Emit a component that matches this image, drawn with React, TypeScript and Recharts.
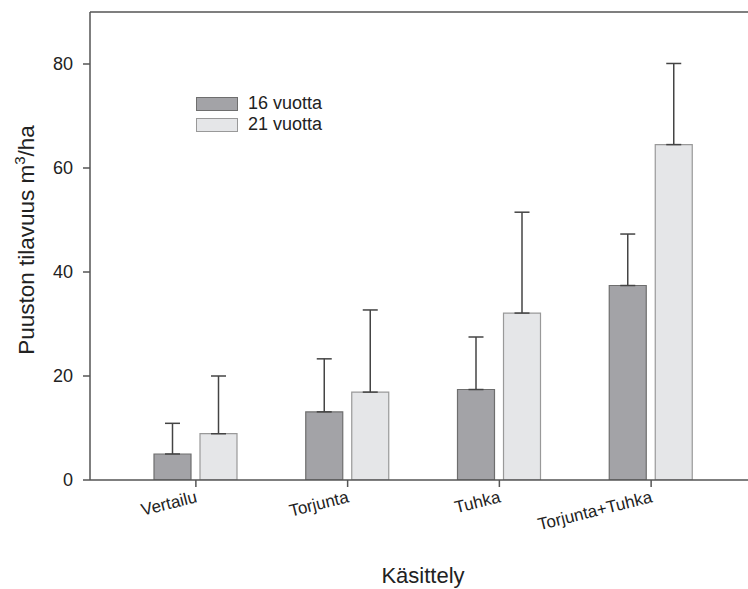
import React from 'react';
import { BarChart, Bar, XAxis, YAxis, ErrorBar, ReferenceLine } from 'recharts';

const categories = ['Vertailu', 'Torjunta', 'Tuhka', 'Torjunta+Tuhka'];
const v16 = [5.0, 13.1, 17.4, 37.4];
const v21 = [8.9, 16.9, 32.1, 64.5];
const sd16 = [5.9, 10.2, 10.1, 9.9];
const sd21 = [11.1, 15.8, 19.4, 15.6];
const yTicks = [0, 20, 40, 60, 80];
const seriesNames = ['16 vuotta', '21 vuotta'];

const data = categories.map((c, i) => ({
  name: c,
  s16: v16[i],
  s21: v21[i],
  e16: [0, sd16[i]],
  e21: [0, sd21[i]],
}));

const FONT = '"Liberation Sans", Arial, sans-serif';
const AX = '#555';
const FILL16 = '#a3a3a7';
const STROKE16 = '#6e6e6e';
const FILL21 = '#e5e6e8';
const STROKE21 = '#999';

const XTick = (props: any) => {
  const { x, y, payload } = props;
  return (
    <g transform={`translate(${x + 2},${y + 15})`}>
      <text
        x={0}
        y={0}
        textAnchor="end"
        transform="rotate(-14)"
        fontFamily={FONT}
        fontSize={17}
        fill="#222"
      >
        {payload.value}
      </text>
    </g>
  );
};

const YLabel = () => (
  <text
    x={34}
    y={240}
    transform="rotate(-90, 34, 240)"
    textAnchor="middle"
    fontFamily={FONT}
    fontSize={22.5}
    fill="#222"
  >
    Puuston tilavuus m<tspan dy={-9} fontSize={15}>3</tspan>
    <tspan dy={9}>/ha</tspan>
  </text>
);

const LegendBox = () => (
  <div
    style={{
      position: 'absolute',
      left: 196,
      top: 93,
      fontFamily: FONT,
      fontSize: 18,
      color: '#222',
      lineHeight: '21px',
    }}
  >
    {[
      { label: seriesNames[0], fill: FILL16, stroke: STROKE16 },
      { label: seriesNames[1], fill: FILL21, stroke: STROKE21 },
    ].map((it) => (
      <div key={it.label} style={{ display: 'flex', alignItems: 'center', height: 21 }}>
        <div
          style={{
            width: 40,
            height: 12,
            background: it.fill,
            border: `1px solid ${it.stroke}`,
            marginRight: 10,
          }}
        />
        <span>{it.label}</span>
      </div>
    ))}
  </div>
);

export default function App() {
  return (
    <div style={{ position: 'absolute', left: 0, top: 0, width: 748, height: 589, background: '#fff' }}>
      <BarChart
        width={748}
        height={589}
        data={data}
        margin={{ top: 12, right: 0, bottom: 0, left: 0 }}
        barSize={37}
        barGap={9}
      >
        <XAxis
          dataKey="name"
          height={109}
          tickSize={7}
          tickMargin={0}
          padding={{ left: 30, right: 21 }}
          axisLine={{ stroke: AX, strokeWidth: 1.5 }}
          tickLine={{ stroke: AX, strokeWidth: 1.5 }}
          tick={<XTick />}
          interval={0}
          label={{
            value: 'Käsittely',
            position: 'insideBottom',
            offset: 6,
            dx: 4,
            style: { fontFamily: FONT, fontSize: 22, fill: '#222' },
          }}
        />
        <YAxis
          width={90}
          domain={[0, 90]}
          ticks={yTicks}
          tickSize={7}
          tickMargin={10}
          axisLine={{ stroke: AX, strokeWidth: 1.5 }}
          tickLine={{ stroke: AX, strokeWidth: 1.5 }}
          tick={{ fontFamily: FONT, fontSize: 18, fill: '#222' }}
          allowDataOverflow
          label={<YLabel />}
        />
        <ReferenceLine y={90} stroke={AX} strokeWidth={1.5} />
        <Bar dataKey="s16" name={seriesNames[0]} fill={FILL16} stroke={STROKE16} strokeWidth={1.2} isAnimationActive={false}>
          <ErrorBar dataKey="e16" width={7.5} stroke="#444" strokeWidth={1.5} direction="y" />
        </Bar>
        <Bar dataKey="s21" name={seriesNames[1]} fill={FILL21} stroke={STROKE21} strokeWidth={1.2} isAnimationActive={false}>
          <ErrorBar dataKey="e21" width={7.5} stroke="#444" strokeWidth={1.5} direction="y" />
        </Bar>
      </BarChart>
      <LegendBox />
    </div>
  );
}
